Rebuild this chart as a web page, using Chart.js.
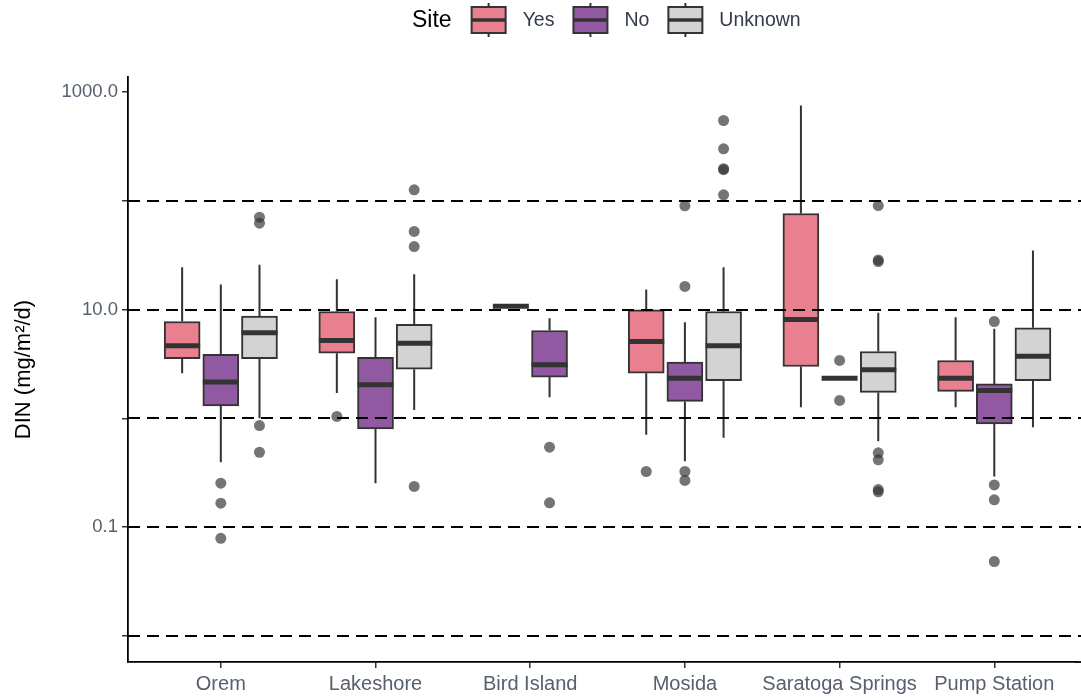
<!DOCTYPE html>
<html>
<head>
<meta charset="utf-8">
<script src="https://cdn.jsdelivr.net/npm/chart.js@4.4.1/dist/chart.umd.min.js"></script>
<style>
  html, body { margin: 0; padding: 0; background: #ffffff; overflow: hidden; }
  #wrap { width: 1081px; height: 698px; position: relative; }
  #chart { display: block; }
</style>
</head>
<body>
<div id="wrap"><canvas id="chart"></canvas></div>
<script>
// Sampling sites along the x axis
const sites = ['Orem', 'Lakeshore', 'Bird Island', 'Mosida', 'Saratoga Springs', 'Pump Station'];

// Box statistics per site (DIN, mg/m²/d). null = no samples for that group.
const yesWhiskerLow  = [2.60, 1.71, 10.7, 0.705, 1.26, 1.26];
const yesQ1          = [3.54, 3.96, 10.7, 2.60, 2.99, 1.77];
const yesMedian      = [4.64, 5.19, 10.7, 5.08, 8.09, 2.33];
const yesQ3          = [7.76, 9.59, 10.7, 9.94, 76.3, 3.40];
const yesWhiskerHigh = [24.5, 19.0, 10.7, 15.3, 751, 8.50];
const yesOutliers    = [[], [1.04], [], [0.324], [], []];

const noWhiskerLow  = [0.394, 0.253, 1.56, 0.403, 2.33, 0.291];
const noQ1          = [1.30, 0.80, 2.39, 1.43, 2.33, 0.889];
const noMedian      = [2.16, 2.03, 3.10, 2.33, 2.33, 1.80];
const noQ3          = [3.88, 3.64, 6.41, 3.28, 2.33, 2.07];
const noWhiskerHigh = [16.98, 8.50, 8.32, 7.64, 2.33, 6.65];
const noOutliers    = [[0.253, 0.1655, 0.0787], [], [0.542, 0.167], [89.9, 16.3, 0.324, 0.268], [3.40, 1.46], [7.76, 0.244, 0.178, 0.0482]];

const unknownWhiskerLow  = [1.0, 1.19, null, 0.661, 0.615, 0.828];
const unknownQ1          = [3.54, 2.83, null, 2.22, 1.73, 2.22];
const unknownMedian      = [6.11, 4.90, null, 4.64, 2.79, 3.72];
const unknownQ3          = [8.68, 7.32, null, 9.59, 4.11, 6.79];
const unknownWhiskerHigh = [25.8, 21.1, null, 24.5, 9.32, 34.9];
const unknownOutliers    = [[70.6, 62.2, 0.857, 0.487], [126, 52.2, 37.9, 0.236], [], [547, 300, 197, 193, 113.5], [90.4, 28.6, 27.6, 0.481, 0.415, 0.221, 0.211], []];

// Axis ticks and dashed reference levels
const yTickValues = [0.01, 0.1, 1, 10, 100, 1000];
const yTickLabels = ['', '0.1', '', '10.0', '', '1000.0'];
const referenceLines = [0.01, 0.1, 1, 10, 100];

const FONT = "'Liberation Sans', Arial, Helvetica, sans-serif";
const OUTLINE = '#333333';
const BOX_PX = 36;      // box width in pixels
const DODGE = 0.25;     // spacing between groups inside a site (x units)

const series = [
  { name: 'Yes',     fill: '#E8808F', low: yesWhiskerLow, q1: yesQ1, med: yesMedian, q3: yesQ3, high: yesWhiskerHigh, out: yesOutliers },
  { name: 'No',      fill: '#9059A1', low: noWhiskerLow, q1: noQ1, med: noMedian, q3: noQ3, high: noWhiskerHigh, out: noOutliers },
  { name: 'Unknown', fill: '#D3D3D3', low: unknownWhiskerLow, q1: unknownQ1, med: unknownMedian, q3: unknownQ3, high: unknownWhiskerHigh, out: unknownOutliers }
];

// dodge position of a group within a site, based on which groups have data there
function groupX(siteIdx, seriesIdx) {
  const present = series.map((s, i) => s.med[siteIdx] != null ? i : -1).filter(i => i >= 0);
  const k = present.indexOf(seriesIdx);
  return siteIdx + (k - (present.length - 1) / 2) * DODGE;
}

const boxDatasets = series.map((s, gi) => ({
  type: 'bar',
  label: s.name,
  data: sites.map((_, si) => s.med[si] == null ? null : { x: groupX(si, gi), y: [s.q1[si], s.q3[si]] }).filter(d => d),
  backgroundColor: s.fill,
  borderColor: OUTLINE,
  borderWidth: 2,
  borderSkipped: false,
  barThickness: BOX_PX,
  grouped: false,
  order: 1
}));

const outlierDatasets = series.map((s, gi) => ({
  type: 'scatter',
  label: s.name + ' outliers',
  data: sites.flatMap((_, si) => s.out[si].map(v => ({ x: groupX(si, gi), y: v }))),
  pointRadius: 5.5,
  pointBackgroundColor: 'rgba(51,51,51,0.68)',
  pointBorderWidth: 0,
  order: 2
}));

// whiskers behind the boxes, medians and dashed levels on top
const boxplotExtras = {
  id: 'boxplotExtras',
  beforeDatasetsDraw(chart) {
    const { ctx, scales: { x, y } } = chart;
    ctx.save();
    ctx.strokeStyle = OUTLINE;
    ctx.lineWidth = 2;
    series.forEach((s, gi) => {
      sites.forEach((_, si) => {
        if (s.med[si] == null) return;
        const px = x.getPixelForValue(groupX(si, gi));
        ctx.beginPath();
        ctx.moveTo(px, y.getPixelForValue(s.q3[si]));
        ctx.lineTo(px, y.getPixelForValue(s.high[si]));
        ctx.moveTo(px, y.getPixelForValue(s.q1[si]));
        ctx.lineTo(px, y.getPixelForValue(s.low[si]));
        ctx.stroke();
      });
    });
    ctx.restore();
  },
  afterDatasetsDraw(chart) {
    const { ctx, chartArea, scales: { x, y } } = chart;
    ctx.save();
    ctx.strokeStyle = OUTLINE;
    ctx.lineWidth = 5;
    ctx.lineCap = 'butt';
    series.forEach((s, gi) => {
      sites.forEach((_, si) => {
        if (s.med[si] == null) return;
        const px = x.getPixelForValue(groupX(si, gi));
        const py = y.getPixelForValue(s.med[si]);
        ctx.beginPath();
        ctx.moveTo(px - BOX_PX / 2, py);
        ctx.lineTo(px + BOX_PX / 2, py);
        ctx.stroke();
      });
    });
    // dashed reference levels run to the right edge of the panel
    ctx.strokeStyle = '#000000';
    ctx.lineWidth = 2;
    ctx.setLineDash([12, 7]);
    referenceLines.forEach(v => {
      const py = Math.round(y.getPixelForValue(v));
      ctx.beginPath();
      ctx.moveTo(chartArea.left, py);
      ctx.lineTo(chart.width, py);
      ctx.stroke();
    });
    ctx.restore();
  },
  afterDraw(chart) {
    const { ctx, chartArea } = chart;
    // x axis line continues to the right edge
    ctx.save();
    ctx.strokeStyle = '#000000';
    ctx.lineWidth = 1.8;
    ctx.beginPath();
    ctx.moveTo(chartArea.right - 1, chartArea.bottom);
    ctx.lineTo(chart.width, chartArea.bottom);
    ctx.stroke();
    ctx.restore();

    // legend: title followed by boxplot keys
    const cy = 20;
    ctx.save();
    ctx.textBaseline = 'middle';
    ctx.textAlign = 'left';
    ctx.fillStyle = '#000000';
    ctx.font = `23px ${FONT}`;
    let cx = 412;
    ctx.fillText('Site', cx, cy + 1);
    cx += ctx.measureText('Site').width + 20;
    ctx.font = `19.5px ${FONT}`;
    series.forEach(s => {
      const w = 34, h = 26;
      ctx.strokeStyle = OUTLINE;
      ctx.lineWidth = 2;
      ctx.beginPath();
      ctx.moveTo(cx + w / 2, cy - 17);
      ctx.lineTo(cx + w / 2, cy + 17);
      ctx.stroke();
      ctx.fillStyle = s.fill;
      ctx.fillRect(cx, cy - h / 2, w, h);
      ctx.strokeRect(cx, cy - h / 2, w, h);
      ctx.lineWidth = 3.5;
      ctx.beginPath();
      ctx.moveTo(cx, cy);
      ctx.lineTo(cx + w, cy);
      ctx.stroke();
      cx += w + 17;
      ctx.fillStyle = '#333b48';
      ctx.fillText(s.name, cx, cy + 1);
      cx += ctx.measureText(s.name).width + 19;
    });
    ctx.restore();
  }
};

new Chart(document.getElementById('chart'), {
  type: 'bar',
  data: { datasets: [...boxDatasets, ...outlierDatasets] },
  options: {
    responsive: true,
    maintainAspectRatio: false,
    animation: false,
    layout: { padding: { top: 77, left: 0, right: 0, bottom: 0 } },
    plugins: { legend: { display: false }, tooltip: { enabled: false } },
    scales: {
      x: {
        type: 'linear',
        bounds: 'data',
        offset: false,
        min: -0.6,
        max: 5.525,
        afterBuildTicks: scale => { scale.ticks = sites.map((_, i) => ({ value: i })); },
        afterFit: scale => { scale.height = 36; },
        ticks: {
          autoSkip: false,
          maxRotation: 0,
          padding: 4,
          color: '#56606e',
          font: { size: 20, family: FONT },
          callback: v => sites[v] ?? ''
        },
        grid: { display: true, offset: false, drawOnChartArea: false, drawTicks: true, tickLength: 6, color: OUTLINE, lineWidth: 1.5 },
        border: { display: true, color: '#000000', width: 1.8 }
      },
      y: {
        type: 'logarithmic',
        bounds: 'data',
        min: 0.00574,
        max: 1374,
        afterBuildTicks: scale => { scale.ticks = yTickValues.map(v => ({ value: v })); },
        afterFit: scale => { scale.width = 128; },
        ticks: {
          autoSkip: false,
          padding: 4,
          color: '#56606e',
          font: { size: 18.5, family: FONT },
          callback: (v, i) => yTickLabels[i] ?? ''
        },
        grid: { display: true, drawOnChartArea: false, drawTicks: true, tickLength: 6, color: OUTLINE, lineWidth: 1.5 },
        border: { display: true, color: '#000000', width: 1.8 },
        title: {
          display: true,
          text: 'DIN (mg/m²/d)',
          color: '#000000',
          font: { size: 22, family: FONT },
          padding: { top: 11, bottom: 0 }
        }
      }
    }
  },
  plugins: [boxplotExtras]
});
</script>
</body>
</html>
